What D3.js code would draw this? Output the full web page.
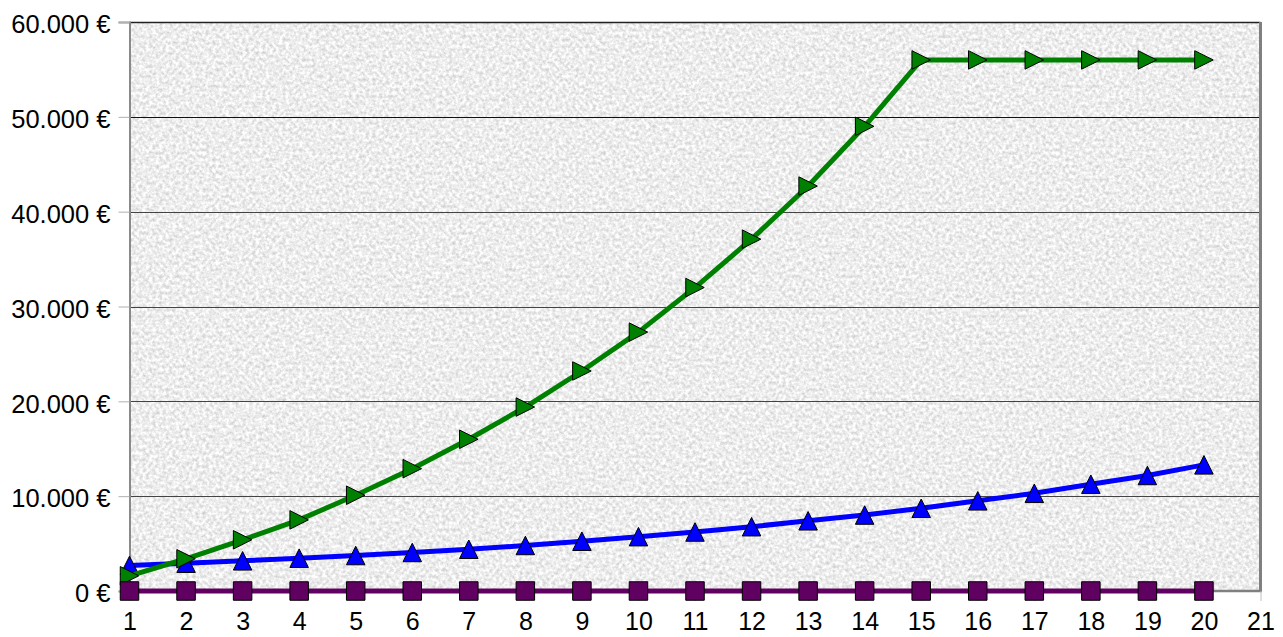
<!DOCTYPE html>
<html>
<head>
<meta charset="utf-8">
<script src="https://cdn.jsdelivr.net/npm/d3@7"></script>
<style>
  body { margin: 0; background: #ffffff; }
  text { font-family: "Liberation Sans", Arial, sans-serif; }
</style>
</head>
<body>
<div id="viz"></div>
<script>
const years = [1, 2, 3, 4, 5, 6, 7, 8, 9, 10, 11, 12, 13, 14, 15, 16, 17, 18, 19, 20];
const greenValues = [1600, 3400, 5400, 7500, 10100, 12900, 16000, 19400, 23200, 27300,
                     32000, 37100, 42700, 49000, 56000, 56000, 56000, 56000, 56000, 56000];
const blueValues = [2700, 2930, 3180, 3460, 3740, 4060, 4400, 4800, 5250, 5730,
                    6220, 6780, 7400, 8010, 8720, 9510, 10300, 11260, 12180, 13300];
const purpleValues = [0, 0, 0, 0, 0, 0, 0, 0, 0, 0, 0, 0, 0, 0, 0, 0, 0, 0, 0, 0];
const yTicks = [0, 10000, 20000, 30000, 40000, 50000, 60000];
const xTicks = [1, 2, 3, 4, 5, 6, 7, 8, 9, 10, 11, 12, 13, 14, 15, 16, 17, 18, 19, 20, 21];

function euro(v) {
    return d3.format(',')(v).replace(/,/g, '.') + ' €';
}

// marker shapes, centred on their bounding box
function markerPath(type, s) {
    const h = s / 2;
    if (type === 'right') {
        return 'M' + (-h) + ',' + (-h) + 'L' + h + ',0L' + (-h) + ',' + h + 'Z';
    }
    if (type === 'up') {
        return 'M0,' + (-h) + 'L' + h + ',' + h + 'L' + (-h) + ',' + h + 'Z';
    }
    return 'M' + (-h) + ',' + (-h) + 'H' + h + 'V' + h + 'H' + (-h) + 'Z';
}

function buildChart(containerId) {
    const width = 1283;
    const height = 637;

    const margin = {
        top: 22,
        bottom: 46,
        right: 22.5,
        left: 129.5
    }

    const innerWidth = width - margin.left - margin.right;
    const innerHeight = height - margin.top - margin.bottom;

    const svg = d3.select(containerId)
                    .append('svg')
                    .attr('height', height)
                    .attr('width', width);

    const defs = svg.append('defs');
    const filter = defs.append('filter')
                       .attr('id', 'granite')
                       .attr('x', 0).attr('y', 0)
                       .attr('width', '100%').attr('height', '100%')
                       .attr('color-interpolation-filters', 'sRGB');
    filter.append('feTurbulence')
          .attr('type', 'fractalNoise')
          .attr('baseFrequency', 0.3)
          .attr('numOctaves', 3)
          .attr('seed', 7);
    filter.append('feColorMatrix')
          .attr('type', 'matrix')
          .attr('values', '0.34 0 0 0 0.76  0.34 0 0 0 0.76  0.34 0 0 0 0.76  0 0 0 0 1');

    const g = svg.append('g')
                .attr('transform', 'translate(' + margin.left + ',' + margin.top + ')');

    const x = d3.scaleLinear()
                .domain([1, 21])
                .range([0, innerWidth]);

    const y = d3.scaleLinear()
                .domain([0, 60000])
                .range([innerHeight, 0]);

    // textured plot area
    g.append('rect')
     .attr('x', 0)
     .attr('y', 0)
     .attr('width', innerWidth)
     .attr('height', innerHeight)
     .attr('filter', 'url(#granite)');

    // gridlines
    g.selectAll('.grid')
     .data(yTicks.filter(d => d > 0 && d < 60000))
     .enter()
     .append('line')
     .attr('class', 'grid')
     .attr('x1', 0)
     .attr('x2', innerWidth)
     .attr('y1', d => Math.round(y(d)) + 0.5)
     .attr('y2', d => Math.round(y(d)) + 0.5)
     .attr('stroke', d => d === 50000 ? '#111' : '#444')
     .attr('stroke-width', 1);

    // frame: dark top, grey left, thick grey right and bottom
    g.append('line')
     .attr('x1', 0).attr('x2', innerWidth)
     .attr('y1', 0.5).attr('y2', 0.5)
     .attr('stroke', '#222').attr('stroke-width', 1.5);
    g.append('line')
     .attr('x1', innerWidth).attr('x2', innerWidth)
     .attr('y1', 0).attr('y2', innerHeight)
     .attr('stroke', '#808080').attr('stroke-width', 3);
    g.append('line')
     .attr('x1', 0).attr('x2', innerWidth + 1.5)
     .attr('y1', innerHeight).attr('y2', innerHeight)
     .attr('stroke', '#808080').attr('stroke-width', 2.5);

    const yAxis = d3.axisLeft(y)
                    .tickValues(yTicks)
                    .tickSize(11)
                    .tickPadding(8)
                    .tickFormat(euro);

    const xAxis = d3.axisBottom(x)
                    .tickValues(xTicks)
                    .tickSize(10)
                    .tickPadding(11)
                    .tickFormat(d3.format('d'));

    const yG = g.append('g')
     .attr('class', 'y-axis')
     .call(yAxis);
    yG.select('.domain').attr('stroke', '#8a8a8a').attr('stroke-width', 2);
    yG.selectAll('.tick line').attr('stroke', '#b0b0b0');
    yG.selectAll('.tick text')
      .attr('font-size', 25.5)
      .attr('fill', '#000')
      .attr('dy', '0.42em');

    const xG = g.append('g')
     .attr('class', 'x-axis')
     .attr('transform', 'translate(0,' + innerHeight + ')')
     .call(xAxis);
    xG.select('.domain').remove();
    xG.selectAll('.tick line').attr('stroke', '#c0c0c0');
    xG.selectAll('.tick text')
      .attr('font-size', 25)
      .attr('fill', '#000');

    const series = [
        { values: blueValues, color: '#0000ff', marker: 'up' },
        { values: greenValues, color: '#008000', marker: 'right' },
        { values: purpleValues, color: '#600060', marker: 'square' }
    ];

    const line = d3.line()
                   .x((d, i) => x(years[i]))
                   .y(d => y(d));

    series.forEach(s => {
        const sg = g.append('g');
        sg.append('path')
          .datum(s.values)
          .attr('d', line)
          .attr('fill', 'none')
          .attr('stroke', s.color)
          .attr('stroke-width', 5)
          .attr('stroke-linejoin', 'round');

        sg.selectAll('.marker')
          .data(s.values)
          .enter()
          .append('path')
          .attr('class', 'marker')
          .attr('transform', (d, i) => 'translate(' + x(years[i]) + ',' + y(d) + ')')
          .attr('d', markerPath(s.marker, 18.5))
          .attr('fill', s.color)
          .attr('stroke', '#000')
          .attr('stroke-width', 1);
    });
}

buildChart('#viz');
</script>
</body>
</html>
